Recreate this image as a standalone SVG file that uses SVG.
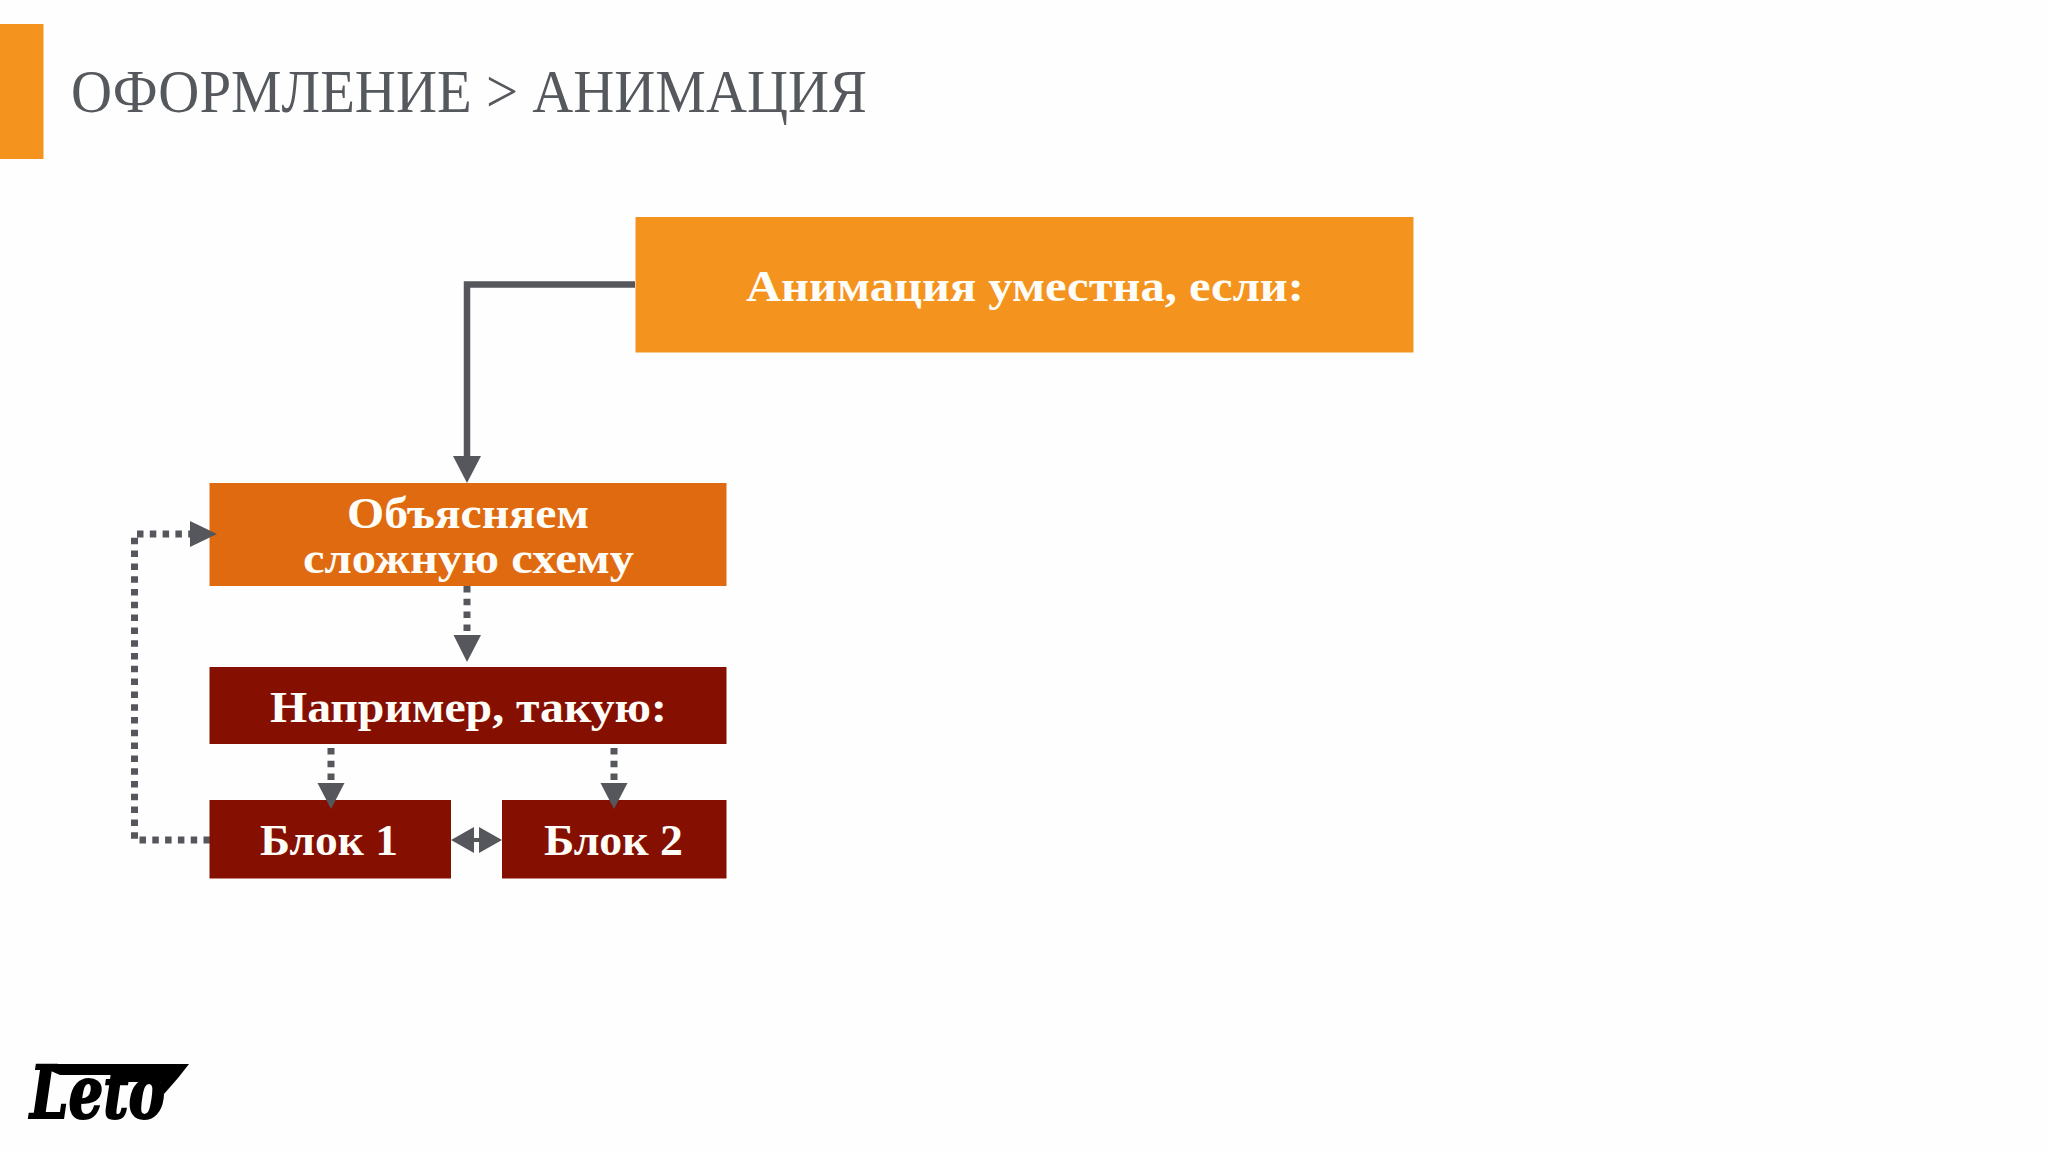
<svg xmlns="http://www.w3.org/2000/svg" width="2048" height="1152" viewBox="0 0 2048 1152">
<style>
.t{font-family:"Liberation Serif","DejaVu Serif",serif;font-weight:700;fill:#fffdf8;text-anchor:start}
.n{font-family:"Liberation Serif","DejaVu Serif",serif;fill:#55585c}
.c{fill:none;stroke:#55575c;stroke-width:6.500}
.d{stroke-dasharray:6.500 6.300;stroke-width:7}
.h{fill:#55575c}
</style>
<rect width="2048" height="1152" fill="#fefefe"/>
<g id="header">
<rect x="0" y="24" width="43.500" height="135" fill="#f4931e"/>
<text class="n" x="71" y="112" font-size="61" textLength="796" lengthAdjust="spacingAndGlyphs">ОФОРМЛЕНИЕ &gt; АНИМАЦИЯ</text>
</g>
<g id="connectors">
<path class="c" d="M635 284.500H467V458"/>
<path class="c d" d="M467 586V635"/>
<path class="c d" d="M210 840H134.500V534H192"/>
<path class="c d" d="M331 748V785"/>
<path class="c d" d="M614 748V785"/>
<path class="c" d="M474 840H479" style="stroke-width:4"/>
</g>
<g id="node-top">
<rect x="635.500" y="217" width="778" height="135.500" fill="#f4931e"/>
<text class="t" x="746" y="301" font-size="44" textLength="558" lengthAdjust="spacingAndGlyphs">Анимация уместна, если:</text>
</g>
<g id="node-explain">
<rect x="209.500" y="483" width="517" height="103" fill="#e06a10"/>
<text class="t" x="347" y="528" font-size="44" textLength="242" lengthAdjust="spacingAndGlyphs">Объясняем</text>
<text class="t" x="303" y="573" font-size="44" textLength="331" lengthAdjust="spacingAndGlyphs">сложную схему</text>
</g>
<g id="node-example">
<rect x="209.500" y="667" width="517" height="77" fill="#851001"/>
<text class="t" x="270" y="722" font-size="44" textLength="397" lengthAdjust="spacingAndGlyphs">Например, такую:</text>
</g>
<g id="node-block1">
<rect x="209.500" y="800" width="241.500" height="78.500" fill="#851001"/>
<text class="t" x="260" y="855" font-size="44" textLength="138" lengthAdjust="spacingAndGlyphs">Блок 1</text>
</g>
<g id="node-block2">
<rect x="502" y="800" width="224.500" height="78.500" fill="#851001"/>
<text class="t" x="544" y="855" font-size="44" textLength="139" lengthAdjust="spacingAndGlyphs">Блок 2</text>
</g>
<g id="arrowheads">
<polygon class="h" points="453,456 481,456 467,483"/>
<polygon class="h" points="453.500,635 481,635 467,662"/>
<polygon class="h" points="190,521 217,534 190,547"/>
<polygon class="h" points="317.500,783 344.500,783 331,809"/>
<polygon class="h" points="600.500,783 627.500,783 614,809"/>
<polygon class="h" points="474,827 474,853 451,840"/>
<polygon class="h" points="479,827 479,853 502,840"/>
</g>
<g id="logo">
<polygon points="44,1068 50,1064 189,1064 178,1078 164,1094 160,1082 112,1082 112,1075 60,1075" fill="#000"/>
<text x="30" y="1118" font-size="72" textLength="135" lengthAdjust="spacingAndGlyphs" style="font-family:'DejaVu Serif',serif;font-weight:700;font-style:italic;fill:#000;stroke:#000;stroke-width:2">Leto</text>
</g>
</svg>
